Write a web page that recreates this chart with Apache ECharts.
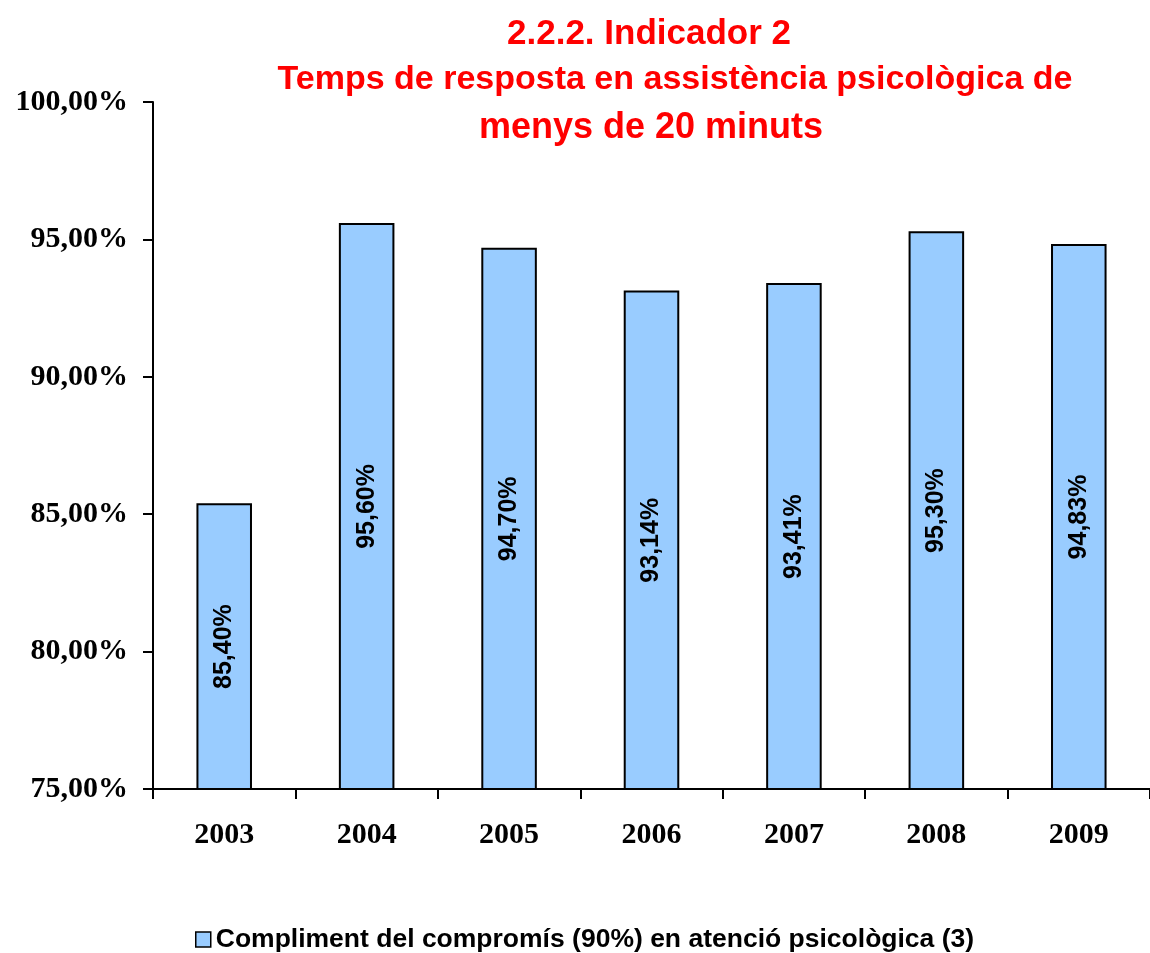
<!DOCTYPE html>
<html>
<head>
<meta charset="utf-8">
<script src="https://cdn.jsdelivr.net/npm/echarts@6/dist/echarts.min.js"></script>
<style>
  html, body { margin: 0; padding: 0; background: #fff; }
  #e { width: 1150px; height: 953px; }
</style>
</head>
<body>
<div id="e"></div>
<script>
// dades
var years = ["2003", "2004", "2005", "2006", "2007", "2008", "2009"];
var values = [85.40, 95.60, 94.70, 93.14, 93.41, 95.30, 94.83];
var titleLines = [
  "2.2.2. Indicador 2",
  "Temps de resposta en assistència psicològica de",
  "menys de 20 minuts"
];
var seriesName = "Compliment del compromís (90%) en atenció psicològica (3)";

function pct(v) {
  return v.toFixed(2).replace(".", ",") + "%";
}

var myChart = echarts.init(document.getElementById("e"));
var titleStyle = {
  color: "#ff0000",
  fontFamily: "Liberation Sans, Arial",
  fontWeight: "bold",
  fontSize: 35
};
var option = {
  animation: false,
  backgroundColor: "#fff",
  title: [
    { text: titleLines[0], left: 644, top: 12, textAlign: "center", textStyle: titleStyle },
    { text: titleLines[1], left: 670, top: 58, textAlign: "center", textStyle: Object.assign({}, titleStyle, { fontSize: 34 }) },
    { text: titleLines[2], left: 646, top: 105, textAlign: "center", textStyle: Object.assign({}, titleStyle, { fontSize: 36 }) }
  ],
  grid: { left: 153, right: -5, top: 102, bottom: 164 },
  legend: {
    top: 921,
    left: 190,
    icon: "rect",
    itemWidth: 15,
    itemHeight: 15,
    itemGap: 4,
    itemStyle: { color: "#99ccff", borderColor: "#000", borderWidth: 1.5 },
    textStyle: {
      color: "#000",
      fontFamily: "Liberation Sans, Arial",
      fontWeight: "bold",
      fontSize: 26.5,
      padding: [0, 0, 0, 0]
    },
    data: [seriesName]
  },
  xAxis: {
    type: "category",
    data: years,
    axisLine: { lineStyle: { color: "#000", width: 2 } },
    axisTick: { show: true, length: 10, lineStyle: { color: "#000", width: 2 } },
    axisLabel: {
      margin: 31,
      color: "#000",
      fontFamily: "Liberation Serif, Times New Roman",
      fontWeight: "bold",
      fontSize: 30
    }
  },
  yAxis: {
    type: "value",
    min: 75,
    max: 100,
    interval: 5,
    splitLine: { show: false },
    axisLine: { show: true, lineStyle: { color: "#000", width: 2 } },
    axisTick: { show: true, length: 10, lineStyle: { color: "#000", width: 2 } },
    axisLabel: {
      margin: 25,
      color: "#000",
      fontFamily: "Liberation Serif, Times New Roman",
      fontWeight: "bold",
      fontSize: 30,
      formatter: function (v) { return pct(v); }
    }
  },
  series: [
    {
      name: seriesName,
      type: "bar",
      data: values,
      barWidth: "39%",
      itemStyle: { color: "#99ccff", borderColor: "#000", borderWidth: 2 },
      label: {
        show: true,
        position: "inside",
        rotate: 90,
        color: "#000",
        fontFamily: "Liberation Sans, Arial",
        fontWeight: "bold",
        fontSize: 25,
        formatter: function (p) { return pct(p.value); }
      }
    }
  ]
};
// dibuixar
myChart.setOption(option);
</script>
</body>
</html>
